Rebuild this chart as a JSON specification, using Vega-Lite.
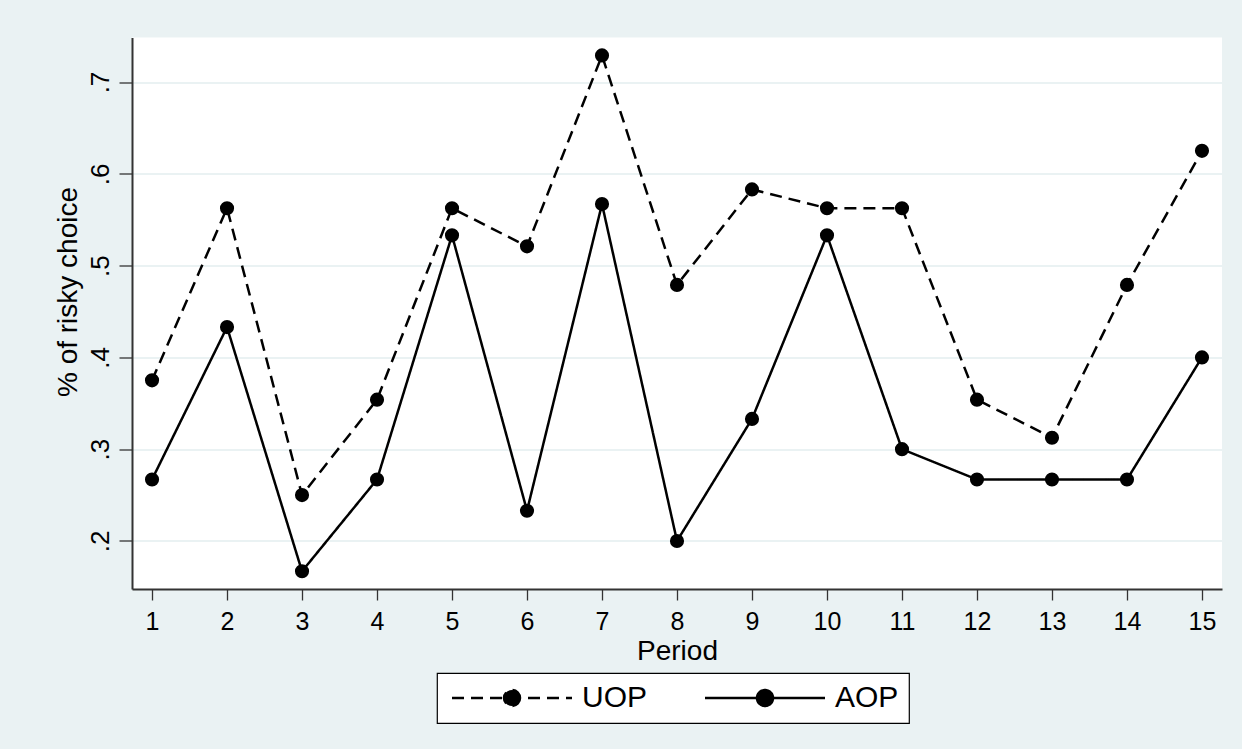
{
  "$schema": "https://vega.github.io/schema/vega-lite/v6.json",
  "autosize": "none",
  "width": 1090,
  "height": 551.5,
  "padding": {"left": 132, "top": 37.5, "right": 20, "bottom": 160},
  "background": "#EAF2F3",
  "config": {
    "view": {"fill": "white", "stroke": null},
    "font": "Liberation Sans"
  },
  "data": {
    "values": [
      {"Period": 1, "series": "UOP", "value": 0.375},
      {"Period": 2, "series": "UOP", "value": 0.5625},
      {"Period": 3, "series": "UOP", "value": 0.25},
      {"Period": 4, "series": "UOP", "value": 0.354},
      {"Period": 5, "series": "UOP", "value": 0.5625},
      {"Period": 6, "series": "UOP", "value": 0.521},
      {"Period": 7, "series": "UOP", "value": 0.729},
      {"Period": 8, "series": "UOP", "value": 0.479},
      {"Period": 9, "series": "UOP", "value": 0.583},
      {"Period": 10, "series": "UOP", "value": 0.5625},
      {"Period": 11, "series": "UOP", "value": 0.5625},
      {"Period": 12, "series": "UOP", "value": 0.354},
      {"Period": 13, "series": "UOP", "value": 0.3125},
      {"Period": 14, "series": "UOP", "value": 0.479},
      {"Period": 15, "series": "UOP", "value": 0.625},
      {"Period": 1, "series": "AOP", "value": 0.267},
      {"Period": 2, "series": "AOP", "value": 0.433},
      {"Period": 3, "series": "AOP", "value": 0.167},
      {"Period": 4, "series": "AOP", "value": 0.267},
      {"Period": 5, "series": "AOP", "value": 0.533},
      {"Period": 6, "series": "AOP", "value": 0.233},
      {"Period": 7, "series": "AOP", "value": 0.567},
      {"Period": 8, "series": "AOP", "value": 0.2},
      {"Period": 9, "series": "AOP", "value": 0.333},
      {"Period": 10, "series": "AOP", "value": 0.533},
      {"Period": 11, "series": "AOP", "value": 0.3},
      {"Period": 12, "series": "AOP", "value": 0.267},
      {"Period": 13, "series": "AOP", "value": 0.267},
      {"Period": 14, "series": "AOP", "value": 0.267},
      {"Period": 15, "series": "AOP", "value": 0.4}
    ]
  },
  "encoding": {
    "x": {
      "field": "Period",
      "type": "quantitative",
      "scale": {"domain": [0.733, 15.267], "nice": false, "zero": false},
      "axis": {
        "title": "Period",
        "values": [1,2,3,4,5,6,7,8,9,10,11,12,13,14,15],
        "grid": false,
        "domainColor": "#333333",
        "domainWidth": 2,
        "tickColor": "#333333",
        "tickWidth": 1.3,
        "tickSize": 11,
        "labelFontSize": 25,
        "labelColor": "black",
        "labelBaseline": "alphabetic",
        "labelPadding": 29,
        "labelFlush": false,
        "labelOverlap": false,
        "titleFontSize": 28,
        "titleFontWeight": "normal",
        "titleColor": "black",
        "titleBaseline": "alphabetic",
        "titleY": 70
      }
    },
    "y": {
      "field": "value",
      "type": "quantitative",
      "scale": {"domain": [0.1477, 0.7485], "nice": false, "zero": false},
      "axis": {
        "title": "% of risky choice",
        "values": [0.2, 0.3, 0.4, 0.5, 0.6, 0.7],
        "labelExpr": "replace(format(datum.value, '.1f'), '0.', '.')",
        "grid": true,
        "gridColor": "#EAF2F3",
        "gridWidth": 2,
        "domainColor": "#333333",
        "domainWidth": 2,
        "tickColor": "#333333",
        "tickWidth": 1.3,
        "tickSize": 13,
        "labelFontSize": 26,
        "labelColor": "black",
        "labelAngle": -90,
        "labelAlign": "center",
        "labelBaseline": "alphabetic",
        "labelPadding": 11,
        "labelFlush": false,
        "labelOverlap": false,
        "titleFontSize": 28,
        "titleFontWeight": "normal",
        "titleColor": "black",
        "titleAngle": -90,
        "titleAlign": "center",
        "titleBaseline": "alphabetic",
        "titleX": -55.3,
        "titleY": 254
      }
    }
  },
  "layer": [
    {
      "mark": {"type": "line", "color": "black", "strokeWidth": 2.5},
      "encoding": {
        "strokeDash": {
          "field": "series",
          "type": "nominal",
          "scale": {"domain": ["UOP", "AOP"], "range": [[12, 7], [1, 0]]},
          "legend": {
            "title": null,
            "orient": "none",
            "legendX": 305,
            "legendY": 635.5,
            "direction": "horizontal",
            "padding": 10,
            "strokeColor": "black",
            "fillColor": "white",
            "symbolType": "M-1,0H11M5.8,0A0.8,0.8 0 0 1 5,0.8A0.8,0.8 0 0 1 4.2,0A0.8,0.8 0 0 1 5,-0.8A0.8,0.8 0 0 1 5.8,0Z",
            "symbolSize": 400,
            "symbolStrokeWidth": 2.5,
            "symbolStrokeColor": "black",
            "symbolFillColor": "black",
            "labelFontSize": 30,
            "labelColor": "black",
            "labelOffset": 105,
            "columnPadding": 52,
            "encode": {
              "legend": {"update": {"strokeWidth": {"value": 1.2}}},
              "symbols": {"update": {"fill": {"value": "black"}, "stroke": {"value": "black"}, "opacity": {"value": 1}}}
            }
          }
        }
      }
    },
    {
      "mark": {"type": "point", "filled": true, "shape": "circle", "size": 200, "color": "black", "opacity": 1},
      "encoding": {"detail": {"field": "series", "type": "nominal"}}
    }
  ]
}
